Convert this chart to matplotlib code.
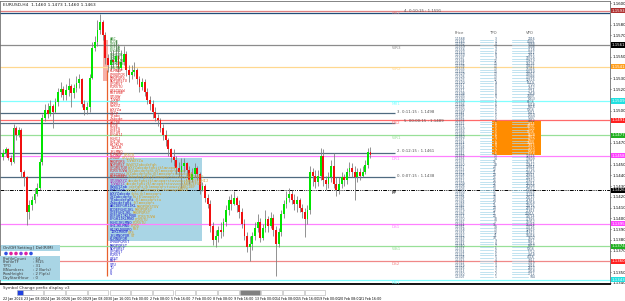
import matplotlib
matplotlib.use('Agg')
import matplotlib.pyplot as plt
from matplotlib.patches import Rectangle, Circle
import numpy as np

# ---- EURUSD H4 candles ----
first_open = 1.1457
closes = [1.1461, 1.1464, 1.1456, 1.1452, 1.1484, 1.1477, 1.1482, 1.1443, 1.1438, 1.1406,
          1.1412, 1.1417, 1.1423, 1.1428, 1.1452, 1.1493, 1.1501, 1.1497, 1.1504, 1.1499,
          1.1508, 1.1517, 1.1520, 1.1515, 1.1519, 1.1523, 1.1516, 1.1521, 1.1526, 1.1529,
          1.1506, 1.1501, 1.1503, 1.1530, 1.1558, 1.1564, 1.1575, 1.1582, 1.1570, 1.1549,
          1.1542, 1.1547, 1.1545, 1.1551, 1.1540, 1.1545, 1.1553, 1.1538, 1.1533, 1.1536,
          1.1538, 1.1529, 1.1522, 1.1527, 1.1517, 1.1510, 1.1506, 1.1499, 1.1493, 1.1491,
          1.1484, 1.1477, 1.1473, 1.1464, 1.1457, 1.1454, 1.1447, 1.1443, 1.1449, 1.1451,
          1.1445, 1.1436, 1.1441, 1.1447, 1.1441, 1.1426, 1.1430, 1.1419, 1.1413, 1.1393,
          1.1380, 1.1384, 1.1389, 1.1387, 1.1397, 1.1408, 1.1417, 1.1413, 1.1419, 1.1412,
          1.1406, 1.1395, 1.1384, 1.1373, 1.1376, 1.1384, 1.1391, 1.1397, 1.1382, 1.1391,
          1.1399, 1.1393, 1.1400, 1.1389, 1.1376, 1.1387, 1.1404, 1.1413, 1.1419, 1.1423,
          1.1417, 1.1413, 1.1417, 1.1410, 1.1406, 1.1399, 1.1408, 1.1443, 1.1439, 1.1434,
          1.1439, 1.1458, 1.1436, 1.1432, 1.1438, 1.1449, 1.1432, 1.1426, 1.1432, 1.1438,
          1.1436, 1.1443, 1.1447, 1.1443, 1.1438, 1.1443, 1.1439, 1.1443, 1.1450, 1.1462, 1.1459]
highs = [1.1464, 1.1466, 1.1465, 1.1459, 1.1488, 1.1486, 1.1485, 1.1484, 1.1445, 1.1439,
         1.1417, 1.1421, 1.1428, 1.1433, 1.1456, 1.1497, 1.1506, 1.1507, 1.1510, 1.1506,
         1.1512, 1.1521, 1.1527, 1.1523, 1.1525, 1.1530, 1.1525, 1.1525, 1.1532, 1.1534,
         1.1530, 1.1510, 1.1508, 1.1534, 1.1564, 1.1569, 1.1584, 1.1590, 1.1584, 1.1573,
         1.1553, 1.1555, 1.1556, 1.1566, 1.1562, 1.1556, 1.1560, 1.1555, 1.1542, 1.1542,
         1.1545, 1.1540, 1.1532, 1.1530, 1.1529, 1.1521, 1.1514, 1.1510, 1.1503, 1.1497,
         1.1493, 1.1488, 1.1482, 1.1475, 1.1465, 1.1464, 1.1458, 1.1452, 1.1456, 1.1456,
         1.1452, 1.1449, 1.1447, 1.1451, 1.1449, 1.1443, 1.1434, 1.1432, 1.1423, 1.1417,
         1.1397, 1.1389, 1.1393, 1.1397, 1.1400, 1.1412, 1.1421, 1.1423, 1.1425, 1.1421,
         1.1417, 1.1410, 1.1399, 1.1387, 1.1384, 1.1387, 1.1397, 1.1404, 1.1400, 1.1395,
         1.1408, 1.1402, 1.1406, 1.1404, 1.1393, 1.1391, 1.1408, 1.1417, 1.1425, 1.1428,
         1.1426, 1.1423, 1.1421, 1.1419, 1.1413, 1.1410, 1.1412, 1.1449, 1.1447, 1.1445,
         1.1445, 1.1465, 1.1464, 1.1439, 1.1443, 1.1454, 1.1461, 1.1438, 1.1438, 1.1443,
         1.1441, 1.1447, 1.1452, 1.1451, 1.1449, 1.1447, 1.1447, 1.1449, 1.1454, 1.1465, 1.1466]
lows = [1.1454, 1.1458, 1.1454, 1.1450, 1.1451, 1.1473, 1.1476, 1.1438, 1.1430, 1.1394,
        1.1399, 1.1408, 1.1414, 1.1421, 1.1426, 1.1450, 1.1490, 1.1493, 1.1495, 1.1484,
        1.1498, 1.1504, 1.1513, 1.1510, 1.1510, 1.1514, 1.1503, 1.1512, 1.1517, 1.1521,
        1.1503, 1.1496, 1.1497, 1.1499, 1.1529, 1.1555, 1.1560, 1.1571, 1.1566, 1.1543,
        1.1536, 1.1538, 1.1540, 1.1542, 1.1536, 1.1538, 1.1542, 1.1532, 1.1527, 1.1529,
        1.1532, 1.1525, 1.1517, 1.1519, 1.1514, 1.1506, 1.1501, 1.1493, 1.1490, 1.1486,
        1.1480, 1.1473, 1.1467, 1.1458, 1.1452, 1.1449, 1.1441, 1.1438, 1.1428, 1.1443,
        1.1439, 1.1432, 1.1434, 1.1438, 1.1436, 1.1423, 1.1425, 1.1415, 1.1410, 1.1387,
        1.1375, 1.1373, 1.1378, 1.1382, 1.1384, 1.1393, 1.1403, 1.1408, 1.1412, 1.1406,
        1.1400, 1.1391, 1.1380, 1.1369, 1.1360, 1.1371, 1.1380, 1.1387, 1.1378, 1.1380,
        1.1387, 1.1387, 1.1391, 1.1384, 1.1346, 1.1373, 1.1384, 1.1400, 1.1410, 1.1415,
        1.1413, 1.1408, 1.1406, 1.1406, 1.1400, 1.1383, 1.1395, 1.1404, 1.1430, 1.1428,
        1.1430, 1.1436, 1.1430, 1.1426, 1.1428, 1.1434, 1.1428, 1.1421, 1.1423, 1.1428,
        1.1430, 1.1432, 1.1439, 1.1438, 1.1417, 1.1434, 1.1436, 1.1438, 1.1441, 1.1447, 1.1456]

time_bars = [0, 8, 16, 24, 32, 40, 48, 56, 64, 72, 80, 88, 96, 104, 112, 120, 128, 136]
time_labels = ['22 Jan 2024', '23 Jan 08:00', '24 Jan 16:00', '26 Jan 00:00', '29 Jan 08:00',
               '30 Jan 16:00', '1 Feb 00:00', '2 Feb 08:00', '5 Feb 16:00', '7 Feb 00:00',
               '8 Feb 08:00', '9 Feb 16:00', '13 Feb 00:00', '14 Feb 08:00', '15 Feb 16:00',
               '19 Feb 00:00', '20 Feb 08:00', '21 Feb 16:00']

axis_ticks = [1.1600, 1.1580, 1.1570, 1.1550, 1.1530, 1.1520, 1.1500, 1.1470, 1.1450,
              1.1440, 1.1430, 1.1420, 1.1410, 1.1400, 1.1390, 1.1380, 1.1370, 1.1350, 1.1340]

# pivot levels
pivot_names = ['MR2', 'WR3', 'WR2', 'MR1', 'DR2', 'WR1', 'DR1', 'PP', 'DS1', 'WS1', 'DS2', 'MS1']
pivot_prices = [1.1593, 1.1561, 1.1541, 1.1509, 1.1491, 1.1477, 1.1458, 1.1426,
                1.1395, 1.1374, 1.1360, 1.1343]
pivot_colors = ['#e08080', '#8c8c8c', '#ffd890', '#80ffff', '#ff6a6a', '#98e098',
                '#ff80ff', '#000000', '#ff80ff', '#98e098', '#f08888', '#80ffff']
pivot_box = ['#b03030', '#000000', '#ffa020', '#20e0e0', '#ff2020', '#20b020',
             '#ff40ff', '#000000', '#ff40ff', '#20b020', '#ff2020', '#20e0e0']

# session lines
session_prices = [1.1591, 1.1498, 1.1489, 1.1461, 1.1438]
session_labels = ['4. 0:10:15 : 1.1591', '3. 0:11:15 : 1.1498', '5. 00:00:15 : 1.1489',
                  '2. 0:12:15 : 1.1461', '0. 0:07:15 : 1.1438']
session_label_bar = [152.8, 150.1, 152.8, 150.1, 150.1]

# market profile rows (letters per row, head part and tan part)
mp_top = 1.1567
mp_step = 0.0003
mp_head = [3, 4, 4, 5, 5, 6, 5, 6, 6, 5,
           6, 7, 7, 8, 6, 6, 7, 6, 5, 5,
           4, 5, 5, 4, 5, 6, 5, 4, 5, 5, 6, 5, 5, 6, 5, 6,
           6, 5,
           7, 7, 8, 8, 7, 8, 8, 7, 8, 7,
           9, 10, 11, 10, 12, 11, 10, 12, 11, 10, 9, 10, 8, 9, 8,
           9, 8, 7, 6, 5, 4, 3, 3, 2, 1, 1]
mp_tan = [0] * 36 + [5, 6] + [8, 14, 22, 26, 30, 34, 36, 34, 30, 28] + \
         [14, 12, 12, 10, 10, 8, 8, 8, 6, 6, 4, 3, 3, 2, 0] + [0] * 11

# table at right (Price / TPO / VPO)
tbl_first = 1.1568
tbl_step = 0.0003
tbl_tpo = [3, 4, 4, 4, 4, 6, 8, 9, 12, 13, 13, 13, 13, 13, 13, 12,
           9, 8, 8, 8, 8, 8, 7,
           6, 6, 6, 6, 5, 5, 5, 5,
           5, 5, 5, 5, 6, 6, 7, 8, 8, 7, 7, 6,
           13, 14, 16, 18, 20, 22, 21, 24, 25, 26, 27, 28, 30, 31, 32, 30, 28, 27,
           25, 24, 22, 21, 20, 18, 17, 16, 14, 13, 12, 11, 10, 9, 8,
           7, 6, 6, 5, 5, 4, 4, 3, 3, 2, 2, 1]
tbl_vpo = [2416, 4009, 4868, 4808, 4118, 7312, 7815, 10516, 13619, 16135, 14415, 15416, 14759, 14913, 13988, 12516,
           8519, 7720, 7612, 7714, 7918, 7409, 6913,
           6516, 6218, 6416, 5916, 5411, 5210, 5307, 4912,
           4715, 4930, 5122, 5016, 5518, 5812, 6617, 7409, 7813, 7210, 6914, 6318,
           12516, 13809, 15711, 17612, 19814, 21716, 20917, 23413, 24219, 25612, 26315, 27408, 29512, 30416, 31218, 29715, 27813, 26918,
           24716, 23519, 21813, 20915, 19714, 17816, 16912, 15418, 13716, 12819, 11613, 10418, 9512, 8817, 7914,
           6813, 5916, 5712, 4918, 4516, 3817, 3419, 2816, 2613, 1918, 1712, 944]

info_names = ['ProfileCount', 'ProfileTF', 'TPO', 'IBNumbers', 'RowHeight', 'DayStartHour']
info_values = ['64', 'M15', '31', '2 Bar(s)', '2 Pip(s)', '0']

NARROW = ['Liberation Sans Narrow', 'DejaVu Sans']

W, H = 625, 301
fig = plt.figure(figsize=(W / 100, H / 100), dpi=100)
ax = fig.add_axes([0, (H - 284) / H, 610 / W, 283 / H])
ov = fig.add_axes([0, 0, 1, 1], zorder=5)
ov.set_xlim(0, W)
ov.set_ylim(H, 0)
ov.axis('off')

ax.set_xlim(-1.143, 231.24)
ax.set_ylim(1.13390, 1.16019)

# value area box and IB highlight
ax.add_patch(Rectangle((40.0, 1.1379), 35.8, 0.0077, fc='#a9d5e5', ec='none', zorder=1))
ax.add_patch(Rectangle((38.1, 1.1528), 1.9, 0.0038, fc='#f6b0a8', ec='none', zorder=1))
ax.vlines(39.6, 1.1346, 1.1538, color='#e8602c', lw=0.9, zorder=2)

# pivot lines
for p, c in zip(pivot_prices, pivot_colors):
    if c == '#000000':
        ax.axhline(p, color=c, lw=0.7, ls=(0, (4, 1.2, 1, 1.2, 1, 1.2)), zorder=2)
    else:
        ax.axhline(p, color=c, lw=0.9, zorder=2)
for p, name, c in zip(pivot_prices, pivot_names, pivot_colors):
    ax.text(148.2, p - 0.00008, name, color=c, fontsize=3, family=NARROW,
            va='top', ha='left', zorder=6)

# session lines
for i, (p, lab, xb) in enumerate(zip(session_prices, session_labels, session_label_bar)):
    if i == 0:
        ax.axhline(p, color='#1f4e79', lw=0.9, zorder=2)
    else:
        ax.hlines(p, -2, 149.3, color='#4f6a80', lw=0.9, zorder=2)
    ax.text(xb, p + 0.00012, lab, color='#505050', fontsize=2.8, family=NARROW,
            va='center', ha='left', zorder=6)

# candles
n = len(closes)
xs = np.arange(n)
o = np.array([first_open] + closes[:-1])
c = np.array(closes)
ax.vlines(xs, lows, highs, color='#808080', lw=0.6, zorder=3)
ax.bar(xs, np.maximum(np.abs(c - o), 0.00008), 0.72, bottom=np.minimum(o, c),
       color=np.where(c >= o, '#00e400', '#f01010'), lw=0, zorder=4)

# market profile letters
base = 'ABCDEFGHIJKLMNOPQRSTUVWXYZabcdefghijklmnopqrstuvwxyz' * 2
fs = 2.7
cw = 0.602 * fs
for k, (nh, nt) in enumerate(zip(mp_head, mp_tan)):
    p = mp_top - k * mp_step
    s0 = k % 26
    if k < 10:
        hc = '#2a8a2a'
    elif k < 44:
        hc = '#e02828'
    elif k < 46:
        hc = '#b020b0'
    else:
        hc = '#2222cc'
    ax.text(40.8, p, base[s0:s0 + nh], family='DejaVu Sans Mono', fontsize=fs,
            color=hc, va='center', ha='left', zorder=6)
    if nt:
        ax.annotate(base[s0 + nh:s0 + nh + nt], (40.8, p), xytext=(nh * cw, 0),
                    textcoords='offset points', family='DejaVu Sans Mono', fontsize=fs,
                    color='#d4a02a', va='center', ha='left', zorder=6)

# axes styling
ax.yaxis.tick_right()
ax.set_yticks(axis_ticks)
ax.set_yticklabels([f'{t:.4f}' for t in axis_ticks], fontsize=2.8, family=NARROW)
ax.tick_params(axis='y', length=1.0, width=0.4, pad=0.5)
ax.set_xticks(time_bars)
ax.set_xticklabels(time_labels, fontsize=2.35, ha='left', family=NARROW)
ax.tick_params(axis='x', length=0, pad=9.2)
for s in ['left', 'top', 'right']:
    ax.spines[s].set_color('#707070')
    ax.spines[s].set_linewidth(0.6)
ax.spines['bottom'].set_color('black')
ax.spines['bottom'].set_linewidth(1.3)

for p, col in zip(pivot_prices, pivot_box):
    ax.text(1.0 + 1.8 / 610, p, f'{p:.4f}', transform=ax.get_yaxis_transform(),
            fontsize=2.8, family=NARROW, color='white', va='center', ha='left',
            clip_on=False, zorder=7,
            bbox=dict(boxstyle='square,pad=0.15', fc=col, ec='none'))

# title
ov.text(3, 4.5, 'EURUSD,H4  1.1460 1.1473 1.1460 1.1463', fontsize=3.2, family=NARROW,
        va='center', color='#202020')

# price / TPO / VPO table
ov.text(455, 33, 'Price', fontsize=2.7, color='#606060', va='center')
ov.text(490, 33, 'TPO', fontsize=2.7, color='#606060', va='center')
ov.text(526, 33, 'VPO', fontsize=2.7, color='#606060', va='center')
ov.add_patch(Rectangle((492, 121), 49, 34, fc='#ff8c00', ec='none', zorder=1))
for k, (t, v) in enumerate(zip(tbl_tpo, tbl_vpo)):
    y = 39 + 2.73 * k
    inside = 121 <= y <= 155
    tc = 'white' if inside else '#3a5a7a'
    ov.text(455, y, f'{tbl_first - k * tbl_step:.4f}', fontsize=2.2, color='#3a5a7a', va='center')
    ov.plot([480, 493], [y + 0.6, y + 0.6], color='#a8d8ea', lw=0.5)
    ov.plot([512, 528], [y + 0.6, y + 0.6], color='#a8d8ea', lw=0.5)
    ov.text(497, y, str(t), fontsize=2.2, color=tc, va='center', ha='right')
    ov.text(535, y, str(v), fontsize=2.2, color=tc, va='center', ha='right')

# settings panels (bottom left)
ov.add_patch(Rectangle((1, 245), 59, 6, fc='#a9d5e5', ec='none'))
ov.text(3, 248, 'On/Off Setting | Del(R/M)', fontsize=2.9, color='#303030', va='center')
for j, col in enumerate(['#3050e0', '#e020a0', '#e020a0', '#8040e0', '#e020a0', '#3050e0']):
    ov.add_patch(Circle((6 + 5 * j, 253.5), 1.8, fc=col, ec='none'))
ov.add_patch(Rectangle((0, 256), 60, 24, fc='#a9d5e5', ec='none'))
for i, (nm, val) in enumerate(zip(info_names, info_values)):
    ov.text(3, 258.5 + 3.9 * i, nm, fontsize=2.8, color='#404040', va='center')
    ov.text(33, 258.5 + 3.9 * i, ': ' + val, fontsize=2.8, color='#404040', va='center')

# bottom indicator strip
ov.text(3, 287.5, 'Symbol Change prefix display v3', fontsize=2.9, family=NARROW,
        color='#303030', va='center')
for j in range(15):
    x0 = 1 + 21.7 * j
    fc = '#2040e0' if j == 0 else ('#808080' if j == 11 else 'white')
    ov.add_patch(Rectangle((x0 + 16 if j == 0 else x0, 290), 16 if j == 0 else 20.5, 5,
                           fc=fc, ec='#b0b0b0', lw=0.4))

fig.savefig('out.png', dpi=100)
